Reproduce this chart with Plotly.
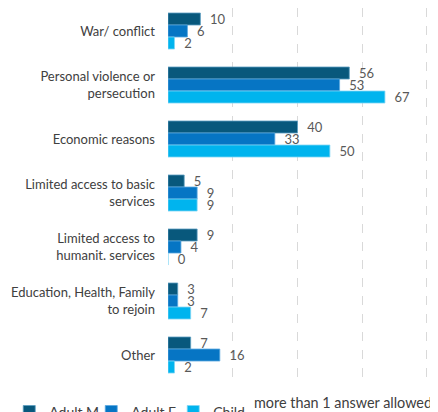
import plotly.graph_objects as go

categories = ["War/ conflict", "Personal violence or<br>persecution", "Economic reasons",
              "Limited access to basic<br>services", "Limited access to<br>humanit. services",
              "Education, Health, Family<br>to rejoin", "Other"]
adult_m = [10, 56, 40, 5, 9, 3, 7]
adult_f = [6, 53, 33, 9, 4, 3, 16]
child = [2, 67, 50, 9, 0, 7, 2]
series_names = ["Adult M", "Adult F", "Child"]
colors = ["#08587C", "#0675C4", "#00B4EE"]
edge = ["#5a9dc0", "#5aa8e0", "#7fd6f5"]

fig = go.Figure()
for name, vals, c, e in zip(series_names, [adult_m, adult_f, child], colors, edge):
    fig.add_trace(go.Bar(
        y=categories, x=vals, name=name, orientation="h",
        marker=dict(color=c, line=dict(color=e, width=0.8)),
        text=["\u00a0\u00a0" + str(v) for v in vals], textposition="outside",
        constraintext="none",
        textfont=dict(family="Lato", size=13, color="#595959"),
        cliponaxis=False,
    ))

fig.update_layout(
    width=430, height=404,
    margin=dict(l=160, r=0, t=0, b=31, autoexpand=False),
    barmode="group", bargap=0.333, bargroupgap=0,
    plot_bgcolor="white", paper_bgcolor="white",
    font=dict(family="Lato", size=13, color="#404040"),
    showlegend=True,
    legend=dict(orientation="h", x=-0.588, xanchor="left",
                y=-0.040, yanchor="top",
                font=dict(size=14, color="#404040"), entrywidth=37,
                traceorder="normal", itemwidth=30, tracegroupgap=0),
)
fig.update_xaxes(range=[0, 83.4], dtick=20, showgrid=True, gridcolor="#d9d9d9",
                 griddash="dash", gridwidth=1, zeroline=False, showticklabels=False,
                 showline=False)
fig.update_yaxes(range=[6.481, -0.426], showgrid=False, ticks="", ticklabelstandoff=12,
                 automargin=False, tickfont=dict(size=13, color="#404040"))
fig.add_annotation(text="more than 1 answer allowed", xref="paper", yref="paper",
                   x=0.31, y=-0.057, xanchor="left", yanchor="middle", showarrow=False,
                   font=dict(size=14.4, color="#404040", family="Lato"))

fig.write_html("out.html")
